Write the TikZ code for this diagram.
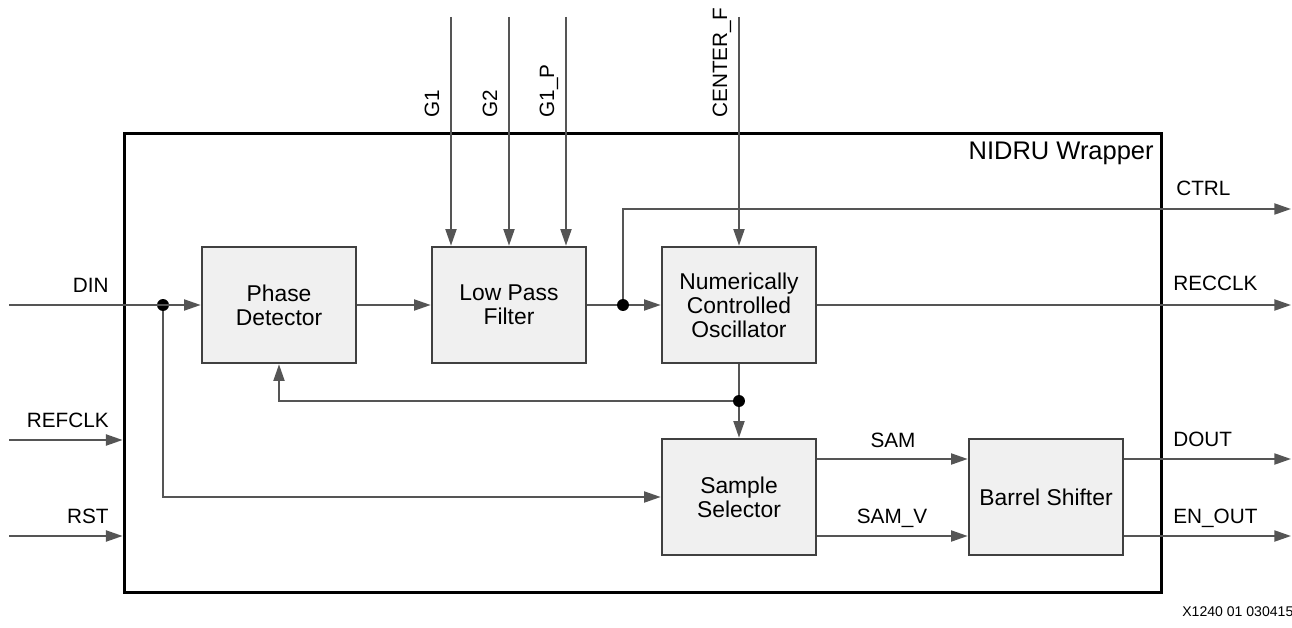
\documentclass[tikz,border=0pt]{standalone}
\usepackage{fontspec}
\setmainfont{Liberation Sans}
\usetikzlibrary{arrows.meta,calc}
\definecolor{boxfill}{HTML}{F0F0F0}
\definecolor{boxline}{HTML}{404040}
\definecolor{wire}{HTML}{555555}
\tikzset{
  blk/.style={draw=boxline, line width=1.5pt, fill=boxfill, minimum width=3.08cm, minimum height=2.32cm, align=center, inner sep=0pt, font=\fontsize{13}{13.6}\selectfont},
  wr/.style={draw=wire, line width=1.1pt},
  arr/.style={wr, -{Triangle[length=9.5pt,width=6.3pt]}},
  dot/.style={circle, fill=black, inner sep=0pt, minimum size=6.8pt},
  lbl/.style={inner sep=0pt, font=\fontsize{11.8}{13.6}\selectfont},
}
\begin{document}
\begin{tikzpicture}[x=0.02cm,y=-0.02cm]
\useasboundingbox (0,0) rectangle (1292,628);
% wrapper
\node[draw=black, line width=1.7pt, minimum width=20.76cm, minimum height=9.2cm, inner sep=0pt] (wrap) at (643,363) {};
\node[lbl, font=\fontsize{14.5}{16}\selectfont, anchor=base east] (wlbl) at (1154,160) {NIDRU Wrapper};
% blocks
\node[blk] (pd) at (279,305) {Phase\\Detector};
\node[blk] (lpf) at (509,305) {Low Pass\\Filter};
\node[blk] (nco) at (739,305) {Numerically\\Controlled\\Oscillator};
\node[blk] (ss) at (739,497) {Sample\\Selector};
\node[blk] (bs) at (1046,497) {Barrel Shifter};
% coordinates
\coordinate (din) at (9,305);
\coordinate (refclk) at (9,440);
\coordinate (rst) at (9,536);
\coordinate (g1) at (451,17);
\coordinate (g2) at (509,17);
\coordinate (g1p) at (566,17);
\coordinate (cf) at (739,17);
\coordinate (ctrl) at (1291,209);
\coordinate (recclk) at (1291,305);
\coordinate (dout) at (1291,459);
\coordinate (enout) at (1291,536);
\node[dot] (d1) at (163,305) {};
\node[dot] (d2) at (623,305) {};
\node[dot] (d3) at (739,401) {};
% connectors
\draw[arr] (din) -- (pd.west |- din);
\draw[arr] (d1) |- (ss.west |- 0,497);
\draw[arr] (refclk) -- (wrap.west |- refclk);
\draw[arr] (rst) -- (wrap.west |- rst);
\draw[arr] (pd.east |- 0,305) -- (lpf.west |- 0,305);
\draw[wr] (lpf.east |- 0,305) -- (d2);
\draw[arr] (d2) -- (nco.west |- 0,305);
\draw[arr] (d2) |- (ctrl);
\draw[arr] (nco.east |- 0,305) -- (recclk);
\draw[wr] (nco.south) -- (d3);
\draw[arr] (d3) -- (ss.north);
\draw[arr] (d3) -| (pd.south);
\draw[arr] (g1) -- (g1 |- lpf.north);
\draw[arr] (g2) -- (g2 |- lpf.north);
\draw[arr] (g1p) -- (g1p |- lpf.north);
\draw[arr] (cf) -- (nco.north);
\draw[arr] (ss.east |- 0,459) -- (bs.west |- 0,459);
\draw[arr] (ss.east |- 0,536) -- (bs.west |- 0,536);
\draw[arr] (bs.east |- 0,459) -- (dout);
\draw[arr] (bs.east |- 0,536) -- (enout);
% labels
\node[lbl, anchor=base east] (ldin) at (109,293) {DIN};
\node[lbl, anchor=base east] (lref) at (109,427) {REFCLK};
\node[lbl, anchor=base east] (lrst) at (109,523) {RST};
\node[lbl, anchor=base west] (lctrl) at (1176,196) {CTRL};
\node[lbl, anchor=base west] (lrec) at (1173,291) {RECCLK};
\node[lbl, anchor=base west] (ldout) at (1173,446) {DOUT};
\node[lbl, anchor=base west] (len) at (1173,523) {EN\_OUT};
\node[lbl, anchor=base] (lsam) at (893,447) {SAM};
\node[lbl, anchor=base] (lsamv) at (892,523) {SAM\_V};
\node[lbl, rotate=90, anchor=base west] (lg1) at (439,118) {G1};
\node[lbl, rotate=90, anchor=base west] (lg2) at (497,118) {G2};
\node[lbl, rotate=90, anchor=base west] (lg1p) at (554,118) {G1\_P};
\node[lbl, rotate=90, anchor=base west] (lcf) at (727,118) {CENTER\_F};
\node[lbl, anchor=base west, font=\fontsize{8}{9}\selectfont] (foot) at (1182,616) {X1240 01 030415};
\end{tikzpicture}
\end{document}
